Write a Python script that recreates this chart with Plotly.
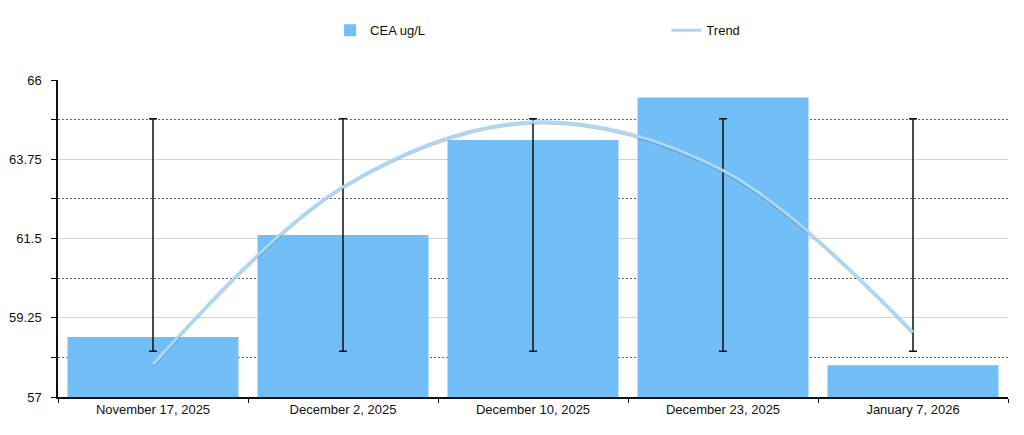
import plotly.graph_objects as go

# chart data
dates = ['November 17, 2025', 'December 2, 2025', 'December 10, 2025',
         'December 23, 2025', 'January 7, 2026']
cea_values = [58.7, 61.6, 64.3, 65.5, 57.9]
ref_low = [58.3, 58.3, 58.3, 58.3, 58.3]
ref_high = [64.9, 64.9, 64.9, 64.9, 64.9]
trend_values = [57.92, 62.97, 64.81, 63.43, 58.84]

major_ticks = [57, 59.25, 61.5, 63.75, 66]
major_labels = ['57', '59.25', '61.5', '63.75', '66']
minor_ticks = [58.125, 60.375, 62.625, 64.875]

y_range = [57, 66]
bar_color = '#72bff7'
trend_color = '#aad8f8'
font_family = 'Liberation Sans, Arial, sans-serif'

fig = go.Figure()

fig.add_trace(go.Bar(
    x=dates,
    y=cea_values,
    name='CEA ug/L',
    marker=dict(color=bar_color, line=dict(width=0)),
    legend='legend',
))

# reference range whiskers
fig.add_trace(go.Scatter(
    x=dates,
    y=ref_high,
    mode='markers',
    marker=dict(size=1, color='rgba(0,0,0,0)'),
    error_y=dict(
        type='data',
        symmetric=False,
        array=[0] * len(dates),
        arrayminus=[h - l for h, l in zip(ref_high, ref_low)],
        color='#111111',
        thickness=1.5,
        width=4,
    ),
    showlegend=False,
    hoverinfo='skip',
))

# trend shadow: same data on an overlay axis nudged ~1px down
fig.add_trace(go.Scatter(
    x=dates,
    y=trend_values,
    mode='lines',
    line=dict(color='rgba(80,80,80,0.3)', width=3, shape='spline'),
    showlegend=False,
    hoverinfo='skip',
    yaxis='y2',
))
# trend itself on a third overlay so it sits above the shadow
fig.add_trace(go.Scatter(
    x=dates,
    y=trend_values,
    mode='lines',
    name='Trend',
    line=dict(color=trend_color, width=3, shape='spline'),
    legend='legend2',
    yaxis='y3',
))

legend_common = dict(
    orientation='h',
    xref='container',
    yref='container',
    y=0.948,
    yanchor='middle',
    xanchor='left',
    font=dict(size=13),
    bgcolor='rgba(0,0,0,0)',
)

shadow_shift = 0.035

# page has an 8px body margin, so figure is sized/offset for that
fig.update_layout(
    width=1016,
    height=427,
    margin=dict(l=50, r=16, t=72, b=38, autoexpand=False),
    plot_bgcolor='white',
    paper_bgcolor='white',
    font=dict(family=font_family, size=13, color='#111111'),
    bargap=0.1,
    legend=dict(x=0.317, **legend_common),
    legend2=dict(x=0.648, **legend_common),
    showlegend=True,
    yaxis2=dict(
        overlaying='y',
        range=[y_range[0] + shadow_shift, y_range[1] + shadow_shift],
        visible=False,
        showgrid=False,
    ),
    yaxis3=dict(
        overlaying='y',
        range=y_range,
        visible=False,
        showgrid=False,
    ),
)

fig.update_xaxes(
    showline=True,
    linecolor='#111111',
    linewidth=1.5,
    ticks='outside',
    tickson='boundaries',
    ticklen=4,
    tickcolor='#111111',
    showgrid=False,
    tickfont=dict(size=13),
    automargin=False,
)

fig.update_layout(yaxis=dict(
    range=y_range,
    tickvals=major_ticks,
    ticktext=major_labels,
    showline=True,
    linecolor='#111111',
    linewidth=1.5,
    ticks='outside',
    ticklen=5,
    tickcolor='#111111',
    ticklabelstandoff=7,
    showgrid=True,
    gridcolor='#d6d6d6',
    gridwidth=1,
    zeroline=False,
    tickfont=dict(size=13),
    automargin=False,
    minor=dict(
        tickvals=minor_ticks,
        ticks='outside',
        ticklen=5,
        tickcolor='#111111',
        showgrid=True,
        gridcolor='#666666',
        griddash='1.5px,2.5px',
        gridwidth=1,
    ),
))

fig.write_html('out.html')
